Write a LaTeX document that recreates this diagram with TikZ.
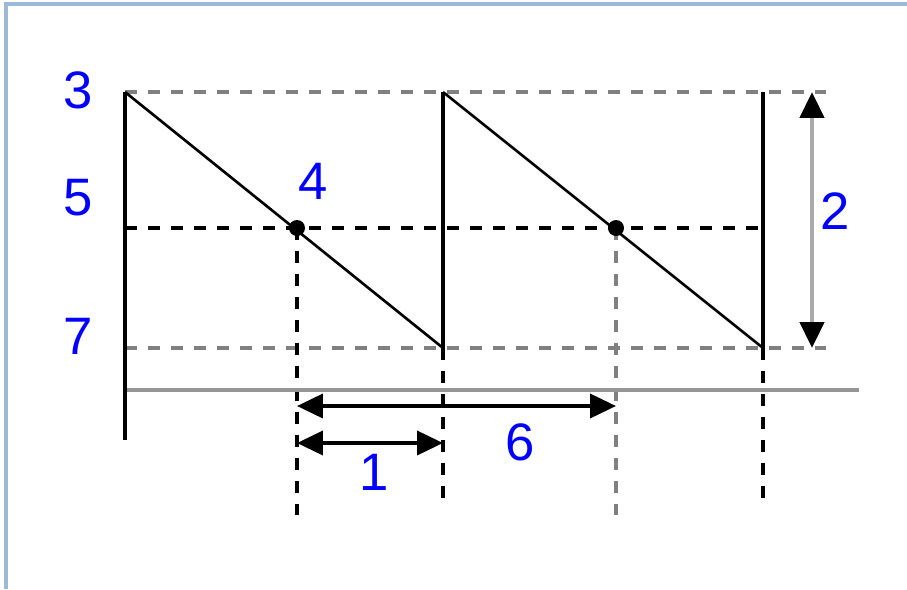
\documentclass[tikz,border=0pt]{standalone}
\usepackage{fontspec}
\setmainfont{Liberation Sans}
\usetikzlibrary{arrows.meta}
\definecolor{numblue}{RGB}{0,0,255}
\definecolor{framebl}{RGB}{157,185,214}
\definecolor{guidegray}{RGB}{128,128,128}
\definecolor{axisgray}{RGB}{150,150,150}
\definecolor{shaftgray}{RGB}{170,170,170}

\begin{document}
\begin{tikzpicture}[x=0.02cm, y=-0.02cm,
	every node/.style={font=\fontsize{30}{32}\selectfont, text=numblue, inner sep=0pt},
	>={Triangle[length=0.52cm, width=0.48cm]},
	guide/.style={dash pattern=on 0.24cm off 0.22cm, line width=1.8pt},
	tooth/.style={line width=2pt}]
	\useasboundingbox (0,0) rectangle (907,589);
	\draw[framebl, line width=1.8pt] (6,589) -- (6,4) -- (907,4);
	\coordinate (a0) at (125,92);
	\coordinate (b0) at (443,348);
	\coordinate (a1) at (443,92);
	\coordinate (b1) at (763,348);
	\coordinate (a2) at (763,92);
	\coordinate (p1) at (297,228);
	\coordinate (p2) at (616,228);
	\coordinate (foot) at (125,440);
	\draw[guide, guidegray] (a0) -- (826,92);
	\draw[guide, black] (125,228) -- (765,228);
	\draw[guide, guidegray] (125,348) -- (826,348);
	\draw[guide, black] (p1) -- (297,515);
	\draw[guide, black] (b0) -- (443,505);
	\draw[guide, guidegray] (p2) -- (616,515);
	\draw[guide, black] (b1) -- (763,505);
	\draw[axisgray, line width=2.2pt] (125,390) -- (859,390);
	\draw[tooth] (foot) -- (a0);
	\draw[line width=1.5pt] (a0) -- (b0);
	\draw[tooth] (b0) -- (a1);
	\draw[line width=1.5pt] (a1) -- (b1);
	\draw[tooth] (b1) -- (a2);
	\fill (p1) circle (8);
	\fill (p2) circle (8);
	\draw[<->, line width=2.2pt] (297,406) -- (616,406);
	\draw[<->, line width=2.2pt] (297,443) -- (443,443);
	\draw[<->, shaftgray, line width=2.6pt, arrows={Triangle[length=0.52cm, width=0.48cm, fill=black, color=black]-Triangle[length=0.52cm, width=0.48cm, fill=black, color=black]}] (812,92) -- (812,348);
	\node (l3) at (78,90) {3};
	\node (l5) at (78,198) {5};
	\node (l7) at (78,336) {7};
	\node (l4) at (313,181) {4};
	\node (l2) at (835,211) {2};
	\node (l6) at (520,442) {6};
	\node (l1) at (374,472) {1};
\end{tikzpicture}
\end{document}
